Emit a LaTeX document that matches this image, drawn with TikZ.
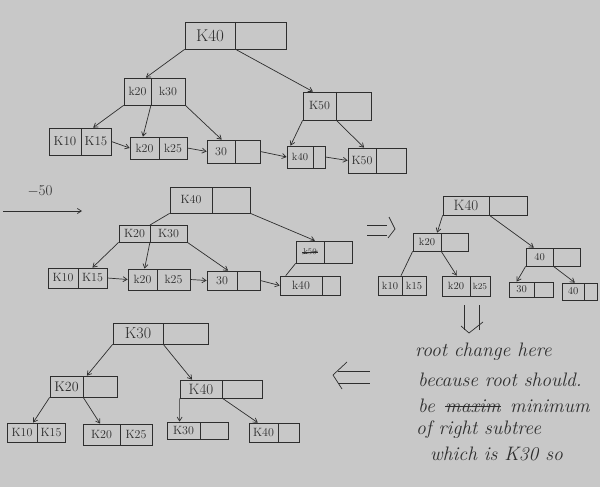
\documentclass[tikz,border=0pt]{standalone}
\usetikzlibrary{arrows.meta,calc}
\definecolor{paper}{HTML}{C8C8C8}
\definecolor{ink}{HTML}{2E2E2E}
\tikzset{
  box/.style={draw=ink,line width=0.7pt,inner sep=0pt,rectangle},
  lab/.style={text=ink,inner sep=0pt,font=\fontsize{12}{13}\selectfont},
  smlab/.style={text=ink,inner sep=0pt,font=\fontsize{10.5}{12}\selectfont},
  biglab/.style={text=ink,inner sep=0pt,font=\fontsize{17}{18}\selectfont},
  ln/.style={draw=ink,line width=0.7pt},
  arr/.style={draw=ink,line width=0.7pt,-{Straight Barb[length=4pt,width=5pt]}},
  note/.style={text=ink,inner sep=0pt,anchor=west,font=\fontsize{19.5}{21}\selectfont\itshape},
}
% name, x1, y1, x2, y2, divider x
\newcommand\bnode[6]{%
  \pgfmathsetmacro\bwid{#4-#2}\pgfmathsetmacro\bhei{#5-#3}%
  \node[box,minimum width=\bwid pt,minimum height=\bhei pt] (#1) at ({(#2+#4)/2},{(#3+#5)/2}) {};
  \coordinate (#1-dt) at (#6,#3);
  \coordinate (#1-db) at (#6,#5);
  \coordinate (#1-lc) at ({(#2+#6)/2},{(#3+#5)/2});
  \coordinate (#1-rc) at ({(#6+#4)/2},{(#3+#5)/2});
  \draw[ln] (#1-dt) -- (#1-db);
}
\newcommand\topat[2]{($(#1.north west)!#2!(#1.north east)$)}
\begin{document}
\begin{tikzpicture}[x=1pt,y=-1pt]
\fill[paper] (0,0) rectangle (600,487);
\useasboundingbox (0,0) rectangle (600,487);

% ---------- stage 1 ----------
\bnode{ra}{185}{22}{286}{49}{235}
\node[biglab] (ra-l) at (ra-lc) {K40};
\bnode{na2}{124}{78}{185}{105}{151}
\node[lab] (na2-l) at (na2-lc) {k20};
\node[lab] (na2-r) at (na2-rc) {k30};
\bnode{na3}{303}{92}{371}{120}{336}
\node[lab] (na3-l) at (na3-lc) {K50};
\bnode{la1}{49}{128}{111}{155}{81}
\node[lab,font=\fontsize{13}{14}\selectfont] (la1-l) at (la1-lc) {K10};
\node[lab,font=\fontsize{13}{14}\selectfont] (la1-r) at (la1-rc) {K15};
\bnode{la2}{130}{137}{187}{159}{159}
\node[lab] (la2-l) at (la2-lc) {k20};
\node[lab] (la2-r) at (la2-rc) {k25};
\bnode{la3}{207}{140}{260}{163}{235}
\node[lab] (la3-l) at (la3-lc) {30};
\bnode{la4}{287}{146}{325}{168}{313}
\node[smlab] (la4-l) at (la4-lc) {k40};
\bnode{la5}{348}{148}{406}{173}{376}
\node[lab] (la5-l) at (la5-lc) {K50};

\draw[arr] (ra.south west) -- \topat{na2}{0.36};
\draw[arr] (ra-db) -- \topat{na3}{0.15};
\draw[arr] (na2.south west) -- \topat{la1}{0.71};
\draw[arr] (na2-db) -- \topat{la2}{0.23};
\draw[arr] (na2.south east) -- \topat{la3}{0.28};
\draw[arr] (na3.south west) -- \topat{la4}{0.1};
\draw[arr] (na3-db) -- \topat{la5}{0.28};
\draw[arr] (la1.east) -- (la2.west);
\draw[arr] (la2.east) -- (la3.west);
\draw[arr] (la3.east) -- (la4.west);
\draw[arr] (la4.east) -- (la5.west);

% ---------- stage 2 ----------
\node[text=ink,inner sep=0pt,font=\fontsize{15}{16}\selectfont] (m50) at (40,191) {$-$50};
\coordinate (s2a) at (3,211);
\coordinate (s2b) at (82,211);
\draw[arr] (s2a) -- (s2b);

\bnode{rb}{170}{187}{250}{213}{212}
\node[lab] (rb-l) at (rb-lc) {K40};
\bnode{nb2}{119}{225}{187}{242}{150}
\node[lab] (nb2-l) at (nb2-lc) {K20};
\node[lab] (nb2-r) at (nb2-rc) {K30};
\bnode{nb3}{296}{241}{352}{263}{324}
\node[lab,font=\fontsize{8.5}{9}\selectfont] (nb3-l) at (nb3-lc) {k50};
\draw[ln,line width=0.5pt] ($(nb3-l.west)+(-1,0)$) -- ($(nb3-l.east)+(1,0)$);
\draw[ln,line width=0.5pt] ($(nb3-l.west)+(-1,2)$) -- ($(nb3-l.east)+(1,-1)$);
\bnode{lb1}{48}{268}{107}{288}{78}
\node[lab] (lb1-l) at (lb1-lc) {K10};
\node[lab] (lb1-r) at (lb1-rc) {K15};
\bnode{lb2}{128}{269}{190}{290}{157}
\node[lab] (lb2-l) at (lb2-lc) {k20};
\node[lab] (lb2-r) at (lb2-rc) {k25};
\bnode{lb3}{207}{271}{260}{290}{237}
\node[lab] (lb3-l) at (lb3-lc) {30};
\bnode{lb4}{280}{276}{340}{295}{322}
\node[lab] (lb4-l) at (lb4-lc) {k40};

\draw[ln] (rb.south west) -- (nb2-dt);
\draw[arr] (rb.south east) -- \topat{nb3}{0.34};
\draw[arr] (nb2.south west) -- \topat{lb1}{0.75};
\draw[arr] (nb2-db) -- \topat{lb2}{0.27};
\draw[arr] (nb2.south east) -- \topat{lb3}{0.4};
\draw[ln] (nb3.south west) -- \topat{lb4}{0.1};
\draw[arr] (lb1.east) -- (lb2.west);
\draw[arr] (lb2.east) -- (lb3.west);
\draw[arr] (lb3.east) -- (lb4.west);

% double arrow right
\draw[ln] (367,225) -- (387,225);
\draw[ln] (367,235) -- (387,235);
\draw[ln] (389,217) -- (395,229) -- (388,238);

% ---------- stage 3 ----------
\bnode{rc}{443}{196}{527}{215}{489}
\node[lab,font=\fontsize{15}{16}\selectfont] (rc-l) at (rc-lc) {K40};
\bnode{nc2}{413}{233}{468}{251}{441}
\node[smlab] (nc2-l) at (nc2-lc) {k20};
\bnode{nc3}{526}{248}{580}{266}{553}
\node[smlab] (nc3-l) at (nc3-lc) {40};
\bnode{lc1}{378}{276}{426}{295}{402}
\node[smlab] (lc1-l) at (lc1-lc) {k10};
\node[smlab] (lc1-r) at (lc1-rc) {k15};
\bnode{lc2}{442}{276}{490}{296}{470}
\node[smlab] (lc2-l) at (lc2-lc) {k20};
\node[lab,font=\fontsize{9}{10}\selectfont] (lc2-r) at (lc2-rc) {k25};
\bnode{lc3}{509}{282}{553}{297}{534}
\node[smlab] (lc3-l) at (lc3-lc) {30};
\bnode{lc4}{562}{283}{597}{300}{584}
\node[smlab] (lc4-l) at (lc4-lc) {40};

\draw[arr] (rc.south west) -- \topat{nc2}{0.44};
\draw[arr] (rc-db) -- \topat{nc3}{0.15};
\draw[ln] (nc2.south west) -- \topat{lc1}{0.48};
\draw[arr] (nc2-db) -- \topat{lc2}{0.31};
\draw[arr] (nc3.south west) -- \topat{lc3}{0.18};
\draw[arr] (nc3-db) -- \topat{lc4}{0.37};

% double arrow down
\draw[ln] (464,305) -- (464,330);
\draw[ln] (479,305) -- (479,330);
\draw[ln] (461,326) -- (469,333) -- (483,322);

% note
\node[note] (t1) at (415,352) {root change here};
\node[note] (t2) at (418,380) {because root should.};
\node[note] (t3a) at (418,406) {be};
\node[note] (t3b) at (445,406) {maxim};
\node[note] (t3c) at (510,406) {minimum};
\draw[ln] (t3b.west) -- (t3b.east);
\node[note] (t4) at (416,430) {of right subtree};
\node[note] (t5) at (430,454) {which is K30 so};

% double arrow left
\draw[ln] (338,371) -- (370,371);
\draw[ln] (338,383) -- (370,383);
\draw[ln] (347,362) -- (333,375) -- (342,389);

% ---------- stage 4 ----------
\bnode{rd}{113}{323}{208}{344}{163}
\node[lab,font=\fontsize{16}{17}\selectfont] (rd-l) at (rd-lc) {K30};
\bnode{nd2}{50}{376}{117}{397}{83}
\node[lab,font=\fontsize{14}{15}\selectfont] (nd2-l) at (nd2-lc) {K20};
\bnode{nd3}{180}{380}{262}{398}{222}
\node[lab,font=\fontsize{15}{16}\selectfont] (nd3-l) at (nd3-lc) {K40};
\bnode{ld1}{7}{423}{65}{442}{37}
\node[lab] (ld1-l) at (ld1-lc) {K10};
\node[lab] (ld1-r) at (ld1-rc) {K15};
\bnode{ld2}{83}{424}{152}{445}{120}
\node[lab] (ld2-l) at (ld2-lc) {K20};
\node[lab] (ld2-r) at (ld2-rc) {K25};
\bnode{ld3}{167}{422}{228}{439}{200}
\node[lab] (ld3-l) at (ld3-lc) {K30};
\bnode{ld4}{249}{423}{299}{442}{278}
\node[lab] (ld4-l) at (ld4-lc) {K40};

\draw[arr] (rd.south west) -- \topat{nd2}{0.55};
\draw[arr] (rd-db) -- \topat{nd3}{0.15};
\draw[arr] (nd2.south west) -- \topat{ld1}{0.45};
\draw[arr] (nd2-db) -- \topat{ld2}{0.25};
\draw[arr] (nd3.south west) -- \topat{ld3}{0.21};
\draw[arr] (nd3-db) -- \topat{ld4}{0.18};
\end{tikzpicture}
\end{document}
